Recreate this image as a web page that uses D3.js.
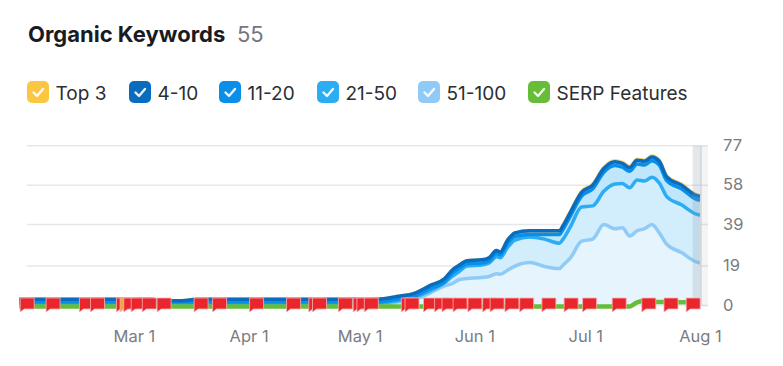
<!DOCTYPE html>
<html>
<head>
<meta charset="utf-8">
<script src="https://cdn.jsdelivr.net/npm/d3@7"></script>
<style>
  html, body { margin: 0; padding: 0; background: #fff; }
  svg { display: block; font-family: Inter, "Noto Sans", sans-serif; }
</style>
</head>
<body>
<svg id="chart" width="783" height="366"></svg>
<script>
const dates = ["01-29","02-20","03-06","03-08","03-14","03-18","04-01","04-10","05-01","05-06","05-11","05-16","05-20","05-24","05-26","05-28","05-30","06-03","06-05","06-07","06-08","06-10","06-12","06-16","06-20","06-24","06-25","06-27","06-30","07-03","07-06","07-09","07-11","07-13","07-15","07-17","07-19","07-21","07-23","07-27","07-31","08-01"];

// stacked from the bottom up
const pos51to100 = [.5,.5,.5,.5,.5,.5,.5,.5,.6,.6,1.5,3,6,9.5,10.5,12.5,13,13.5,14,15.3,15,17,19,20.7,18.8,17.8,19.5,23,31,32,39,37,37.5,33.5,36,37,39,35,29.5,25.5,21,20.5];
const pos21to50 = [.5,.5,.5,.5,.5,.5,.5,.5,.6,.6,.7,1,1,1.5,3.5,4,6,6,6.5,8.2,8,11,12.5,12.3,13.2,12.2,12.5,15,16.5,16,16,21.5,21.3,23.2,24.5,23,22.8,24,23,23,23,23];
const pos11to20 = [.7,.7,.7,.7,.7,.7,.7,.7,.5,.5,.8,.7,1.1,.5,1.5,1.5,1.1,1,1,1.5,1.3,2,1.9,1.2,2.2,4.2,4.7,5.2,5.2,8.2,9.2,9,7.9,8,7.7,7.7,7.9,8.7,7.7,7.7,7.2,7.2];
const pos4to10 = [1.3,1.3,1.3,.6,.6,1.3,1.3,1.3,1.3,1.3,1.3,1.3,1.5,1.5,1.5,1.5,1.5,1.5,1.5,1.5,1.5,1.5,1.6,1.8,1.8,1.8,1.8,1.8,1.8,1.8,1.8,1.8,1.8,1.8,1.8,1.8,1.8,1.8,1.8,1.8,1.8,1.8];
const top3 = [0,0,0,0,0,0,0,0,0,0,0,0,0,0,0,0,0,0,0,0,0,0,0,0,0,0,.3,.4,.5,.5,.5,.5,.5,.5,.5,.5,.5,.5,.5,.5,.4,.4];
const serp = [0,0,0,0,0,0,0,0,0,0,0,0,0,0,0,0,0,0,0,0,0,0,0,0,0,0,0,0,0,0,0,0,0,0,2,2.6,2.4,2.2,2.1,2,2,2];

const flagDates = ["01-29","02-05","02-14","02-17","02-24","02-25","02-26","02-28","03-03","03-07","03-17","03-22","04-01","04-11","04-17","04-18","04-25","04-29","04-30","05-02","05-12","05-13","05-18","05-21","05-23","05-26","05-30","06-03","06-05","06-09","06-13","06-19","06-25","06-30","07-08","07-16","07-22","07-28"];
const orangeFlags = ["02-25"];

const yTicks = [0, 19, 39, 58, 77];
const monthTicks = ["03-01","04-01","05-01","06-01","07-01","08-01"];

const legendLabels = ["Top 3", "4-10", "11-20", "21-50", "51-100", "SERP Features"];
const legendColors = ["#fbc642", "#0a6cbf", "#0a8fe9", "#2cadf3", "#8fcbf6", "#67bc38"];
const legendX = [27, 129, 219, 317, 418, 528];

const parse = s => d3.timeParse("%Y-%m-%d")("2023-" + s);
const days = dates.map(parse);

const svg = d3.select("#chart");

// Header
svg.append("text").attr("x", 28).attr("y", 42)
    .attr("font-size", "22px").attr("font-weight", 700).attr("fill", "#191b23")
    .text("Organic Keywords");
svg.append("text").attr("x", 237).attr("y", 42)
    .attr("font-size", "22px").attr("fill", "#75777c").text("55");

// Legend
const lg = svg.append("g");
legendLabels.forEach((label, i) => {
    const item = lg.append("g").attr("transform", `translate(${legendX[i]},81)`);
    item.append("rect").attr("width", 22).attr("height", 22).attr("rx", 5).attr("fill", legendColors[i]);
    item.append("path").attr("d", "M6.5 11.5 L10 15 L16 8")
        .attr("fill", "none").attr("stroke", "#fff").attr("stroke-width", 2.4)
        .attr("stroke-linecap", "round").attr("stroke-linejoin", "round").attr("opacity", .9);
    item.append("text").attr("x", 28.5).attr("y", 18.5)
        .attr("font-size", "19px").attr("fill", "#2b2e33").text(label);
});

// Scales
const x = d3.scaleTime().domain([parse("01-28"), parse("08-01")]).range([15.5, 700]);
const y = d3.scaleLinear().domain([0, 77]).range([305.5, 145.7]);
const plotLeft = 27, plotRight = 708;

// Grid
svg.append("g").selectAll("line").data(yTicks).join("line")
    .attr("x1", plotLeft).attr("x2", plotRight)
    .attr("y1", d => y(d)).attr("y2", d => y(d))
    .attr("stroke", "#e6e7e9").attr("stroke-width", 1.5);

// Stacked layers
const keys = ["r51", "r21", "r11", "r4", "t3"];
const rows = days.map((d, i) => ({
    date: d, r51: pos51to100[i], r21: pos21to50[i], r11: pos11to20[i], r4: pos4to10[i], t3: top3[i]
}));
const stacked = d3.stack().keys(keys)(rows);
const lineColors = { r51: "#8fcbf6", r21: "#2cadf3", r11: "#0a8fe9", r4: "#0a6cbf", t3: "#f3d27a" };
const fillColors = { r51: "#e6f4fe", r21: "#d2eefd", r11: "#bfe6fb", r4: "#a6d8f7", t3: "#fdf0c8" };

const area = d3.area().curve(d3.curveMonotoneX)
    .x(d => x(d.data.date)).y0(d => y(d[0])).y1(d => y(d[1]));
const line = d3.line().curve(d3.curveMonotoneX)
    .x(d => x(d.data.date)).y(d => y(d[1]));

svg.append("g").selectAll("path").data(stacked).join("path")
    .attr("d", area).attr("fill", d => fillColors[d.key]);

// yellow goes first so it only shows as a faint edge above the dark blue
const lineOrder = ["t3", "r51", "r21", "r11", "r4"].map(k => stacked.find(s => s.key === k));
svg.append("g").selectAll("path").data(lineOrder).join("path")
    .attr("d", line).attr("fill", "none")
    .attr("stroke", d => lineColors[d.key])
    .attr("stroke-width", 3.5)
    .attr("stroke-linejoin", "round");

// SERP Features, sits a pixel under the zero line in the original
svg.append("path").datum(serp)
    .attr("transform", "translate(0,1)")
    .attr("d", d3.line().curve(d3.curveMonotoneX).x((d, i) => x(days[i])).y(d => y(d)))
    .attr("fill", "none").attr("stroke", "#67bc38").attr("stroke-width", 4.5);

// Hover column at the right edge
svg.append("rect").attr("x", x(parse("07-30"))).attr("y", y(77))
    .attr("width", x(parse("08-01")) - x(parse("07-30")) + 1).attr("height", y(0) - y(77) + 1)
    .attr("fill", "#8a97a3").attr("opacity", .22);
svg.append("rect").attr("x", x(parse("08-01")) + 1).attr("y", y(77))
    .attr("width", 7).attr("height", y(0) - y(77) + 1)
    .attr("fill", "#8a97a3").attr("opacity", .1);
svg.append("line").attr("x1", x(parse("08-01")) + 1).attr("x2", x(parse("08-01")) + 1)
    .attr("y1", y(77)).attr("y2", y(0))
    .attr("stroke", "#c3cad0").attr("stroke-width", 1);

// Axes
const yAxis = svg.append("g").attr("transform", "translate(723,-0.5)")
    .call(d3.axisRight(y).tickValues(yTicks).tickSize(0).tickPadding(0));
const xAxis = svg.append("g").attr("transform", "translate(0,327)")
    .call(d3.axisBottom(x).tickValues(monthTicks.map(parse)).tickSize(0).tickPadding(3)
        .tickFormat(d3.timeFormat("%b %-d")));
[yAxis, xAxis].forEach(a => {
    a.select(".domain").remove();
    a.selectAll("text").attr("font-size", "16.5px").attr("fill", "#7a7c80")
        .attr("font-family", "Inter, 'Noto Sans', sans-serif");
});

// Note flags
svg.append("g").selectAll("path").data(flagDates).join("path")
    .attr("transform", d => `translate(${x(parse(d)) + 1},${y(0) - 7.5})`)
    .attr("d", "M0 0 H14 V11 H4 L0 14 Z")
    .attr("fill", d => orangeFlags.includes(d) ? "#f2a93b" : "#e9262c")
    .attr("stroke", "#f9b3b5").attr("stroke-width", .8);
</script>
</body>
</html>
